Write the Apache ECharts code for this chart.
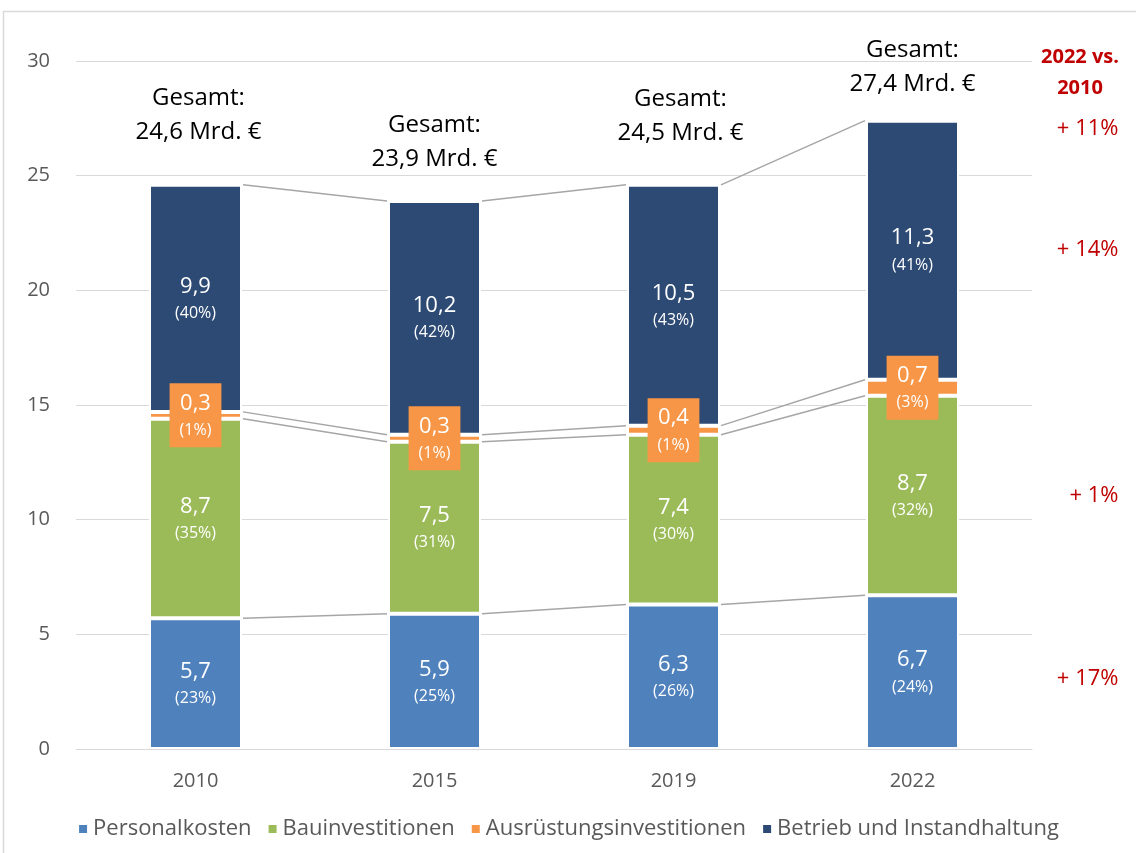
<!DOCTYPE html>
<html>
<head>
<meta charset="utf-8">
<script src="https://cdn.jsdelivr.net/npm/echarts@6/dist/echarts.min.js"></script>
<style>
  html, body { margin: 0; padding: 0; background: #fff; }
  #chart { width: 1136px; height: 853px; }
</style>
</head>
<body>
<div id="chart"></div>
<script>
var years = ['2010', '2015', '2019', '2022'];
var personal = [5.7, 5.9, 6.3, 6.7];
var bau = [8.7, 7.5, 7.4, 8.7];
var ausruestung = [0.3, 0.3, 0.4, 0.7];
var betrieb = [9.9, 10.2, 10.5, 11.3];
var pctPersonal = [23, 25, 26, 24];
var pctBau = [35, 31, 30, 32];
var pctAusr = [1, 1, 1, 3];
var pctBetrieb = [40, 42, 43, 41];
var totals = [24.6, 23.9, 24.5, 27.4];
var changes = ['+ 17%', '+ 1%', '+ 14%', '+ 11%'];

var FONT = '"Open Sans", "Noto Sans", sans-serif';
var BAR_W = 93;

function fmt(v) {
    return v.toFixed(1).replace('.', ',');
}

// cumulative boundaries for the connector lines
var lvl1 = [], lvl2 = [], lvl3 = [], lvl4 = [];
for (var i = 0; i < years.length; i++) {
    lvl1.push(personal[i]);
    lvl2.push(personal[i] + bau[i]);
    lvl3.push(personal[i] + bau[i] + ausruestung[i]);
    lvl4.push(personal[i] + bau[i] + ausruestung[i] + betrieb[i]);
}
var connectors = [];
[lvl1, lvl2, lvl3, lvl4].forEach(function (lv) {
    for (var i = 0; i < lv.length - 1; i++) {
        connectors.push([i, lv[i], lv[i + 1]]);
    }
});

// 2022 annotation anchors: middle of segments and total
var last = years.length - 1;
var changeY = [
    personal[last] / 2,
    personal[last] + bau[last] / 2,
    lvl3[last] + betrieb[last] / 2,
    lvl4[last]
];
var changeOffsetY = [7, 0, 0, 8];
var gesamtDist = [36, 25, 37, 19];
var gesamtDx = [3, 0, 7, 0];

function segLabel(pcts) {
    return {
        show: true,
        position: 'inside',
        color: '#fff',
        fontFamily: FONT,
        formatter: function (p) {
            return '{v|' + fmt(p.value) + '}\n{p|(' + pcts[p.dataIndex] + '%)}';
        },
        rich: {
            v: { fontSize: 22, lineHeight: 30, color: '#fff', fontFamily: FONT },
            p: { fontSize: 16, lineHeight: 24, color: '#fff', fontFamily: FONT }
        }
    };
}

var myChart = echarts.init(document.getElementById('chart'));
var option = {
    animation: false,
    backgroundColor: '#fff',
    graphic: [{
        type: 'rect',
        shape: { x: 3.5, y: 11.5, width: 1200, height: 900 },
        style: { fill: 'none', stroke: '#D9D9D9', lineWidth: 1.5 }
    }, {
        type: 'text',
        x: 1080,
        y: 42,
        style: {
            text: '2022 vs.\n2010',
            textAlign: 'center',
            fill: '#C00000',
            font: 'bold 20px ' + FONT,
            lineHeight: 31
        }
    }],
    grid: { left: 76, right: 104, top: 61, bottom: 104 },
    legend: {
        bottom: 8,
        left: 'center',
        icon: 'rect',
        itemWidth: 10,
        itemHeight: 10,
        itemGap: 15,
        textStyle: { fontSize: 22, color: '#595959', fontFamily: FONT },
        data: ['Personalkosten', 'Bauinvestitionen', 'Ausrüstungsinvestitionen', 'Betrieb und Instandhaltung']
    },
    xAxis: {
        type: 'category',
        data: years,
        axisLine: { lineStyle: { color: '#D9D9D9' } },
        axisTick: { show: false },
        axisLabel: { fontSize: 20, color: '#595959', margin: 22, fontFamily: FONT }
    },
    yAxis: {
        type: 'value',
        min: 0,
        max: 30,
        interval: 5,
        axisLabel: { fontSize: 20, color: '#595959', margin: 26, fontFamily: FONT },
        splitLine: { lineStyle: { color: '#D9D9D9', width: 1 } }
    },
    series: [{
        name: 'Personalkosten',
        type: 'bar',
        stack: 'k',
        barWidth: BAR_W,
        data: personal,
        itemStyle: { color: '#4F81BD', borderColor: '#fff', borderWidth: 2 },
        label: segLabel(pctPersonal)
    }, {
        name: 'Bauinvestitionen',
        type: 'bar',
        stack: 'k',
        data: bau,
        itemStyle: { color: '#9BBB59', borderColor: '#fff', borderWidth: 2 },
        label: segLabel(pctBau)
    }, {
        name: 'Ausrüstungsinvestitionen',
        type: 'bar',
        stack: 'k',
        data: ausruestung,
        itemStyle: { color: '#F79646', borderColor: '#fff', borderWidth: 2 },
        label: Object.assign(segLabel(pctAusr), {
            backgroundColor: '#F79646',
            padding: [5, 10, 5, 10]
        }),
        z: 3
    }, {
        name: 'Betrieb und Instandhaltung',
        type: 'bar',
        stack: 'k',
        data: betrieb,
        itemStyle: { color: '#2C4A74', borderColor: '#fff', borderWidth: 2 },
        label: segLabel(pctBetrieb)
    }, {
        // connector lines between bars
        type: 'custom',
        silent: true,
        z: 1,
        data: connectors,
        renderItem: function (params, api) {
            var a = api.coord([api.value(0), api.value(1)]);
            var b = api.coord([api.value(0) + 1, api.value(2)]);
            var h = BAR_W / 2 + 1;
            return {
                type: 'line',
                shape: { x1: a[0] + h, y1: a[1], x2: b[0] - h, y2: b[1] },
                style: { stroke: '#A6A6A6', lineWidth: 1.5 }
            };
        }
    }, {
        // "Gesamt" labels above each bar
        type: 'scatter',
        symbolSize: 0,
        silent: true,
        itemStyle: { opacity: 1 },
        data: totals.map(function (t, i) {
            return {
                value: [i, t],
                label: { distance: gesamtDist[i], offset: [gesamtDx[i], 0] }
            };
        }),
        label: {
            show: true,
            position: 'top',
            align: 'center',
            color: '#000',
            fontSize: 24,
            lineHeight: 34,
            fontFamily: FONT,
            formatter: function (p) {
                return 'Gesamt:\n' + fmt(p.value[1]) + ' Mrd. €';
            }
        }
    }, {
        // change 2022 vs. 2010 on the right
        type: 'scatter',
        symbolSize: 0,
        silent: true,
        itemStyle: { opacity: 1 },
        data: changeY.map(function (y, i) {
            return {
                value: [last, y],
                name: changes[i],
                label: { offset: [206, changeOffsetY[i]] }
            };
        }),
        label: {
            show: true,
            position: 'inside',
            align: 'right',
            verticalAlign: 'middle',
            color: '#C00000',
            fontSize: 22,
            fontFamily: FONT,
            formatter: function (p) { return p.name; }
        }
    }]
};
myChart.setOption(option);
</script>
</body>
</html>
